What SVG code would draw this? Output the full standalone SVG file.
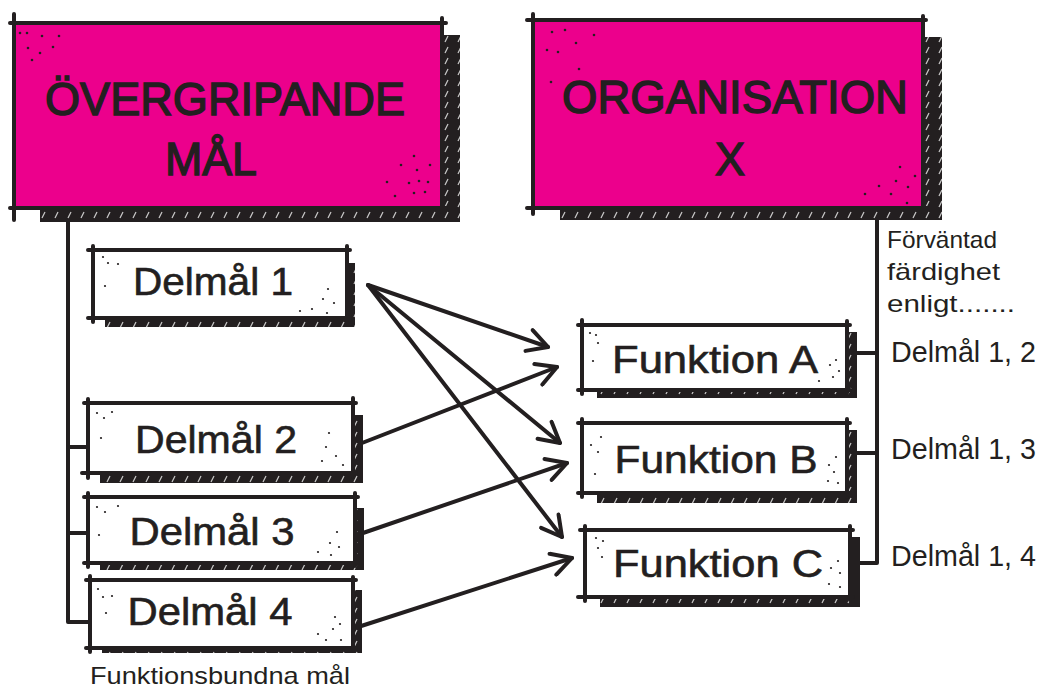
<svg xmlns="http://www.w3.org/2000/svg" width="1044" height="690" viewBox="0 0 1044 690">
<style>
.shadow{fill:#231f20}
.hatch{fill:url(#hatch)}
.pink{fill:#ec008c}
.white{fill:#ffffff}
.edge{stroke:#231f20;stroke-width:4;stroke-linecap:round;fill:none}
.title{font-family:"Liberation Sans",Arial,sans-serif;font-size:46px;fill:#231f20;stroke:#231f20;stroke-width:1.4}
.lbl{font-family:"Liberation Sans",Arial,sans-serif;font-size:38px;fill:#231f20;stroke:#231f20;stroke-width:0.6}
.note{font-family:"Liberation Sans",Arial,sans-serif;font-size:24px;fill:#231f20}
.side{font-family:"Liberation Sans",Arial,sans-serif;font-size:29px;fill:#231f20}
.conn{stroke:#231f20;stroke-width:4;fill:none;stroke-linecap:round;stroke-linejoin:round}
.dot{fill:#231f20}
</style>
<defs>
<pattern id="hatch" patternUnits="userSpaceOnUse" width="13" height="11">
<line x1="3" y1="9" x2="6" y2="3" stroke="#ffffff" stroke-width="1.2" stroke-opacity="0.75"/>
</pattern>
<marker id="arr" viewBox="0 0 26 26" refX="23" refY="13" markerWidth="26" markerHeight="26" markerUnits="userSpaceOnUse" orient="auto">
<path d="M3,2 L23,13 L3,24" fill="none" stroke="#231f20" stroke-width="4" stroke-linecap="round" stroke-linejoin="round"/>
</marker>
</defs>
<rect width="1044" height="690" fill="#ffffff"/>

<g id="connectors">
<path class="conn" d="M68,208 V622 H90"/>
<path class="conn" d="M68,447 H88"/>
<path class="conn" d="M68,533 H88"/>
<path class="conn" d="M877,208 V563 H850"/>
<path class="conn" d="M847,353 H877"/>
<path class="conn" d="M847,453 H877"/>
<line class="conn" x1="368" y1="285" x2="548" y2="347" marker-end="url(#arr)"/>
<line class="conn" x1="368" y1="285" x2="560" y2="443" marker-end="url(#arr)"/>
<line class="conn" x1="368" y1="285" x2="562" y2="537" marker-end="url(#arr)"/>
<line class="conn" x1="362" y1="443" x2="557" y2="367" marker-end="url(#arr)"/>
<line class="conn" x1="363" y1="533" x2="567" y2="463" marker-end="url(#arr)"/>
<line class="conn" x1="355" y1="628" x2="572" y2="558" marker-end="url(#arr)"/>
</g>

<g id="node-overgripande">
<rect class="shadow" x="40" y="35" width="420" height="187"/>
<rect class="hatch" x="40" y="35" width="420" height="187"/>
<rect class="pink" x="14" y="23" width="428" height="185"/>
<path class="edge" d="M10,23 H446 M14,14 V220 M10,208 H446 M442,18 V212"/>
<g class="dot"><circle cx="20" cy="33" r="1.3"/><circle cx="27" cy="33" r="1.3"/><circle cx="42" cy="36" r="1.3"/><circle cx="59" cy="36" r="1.3"/><circle cx="28" cy="48" r="1.3"/><circle cx="40" cy="53" r="1.3"/><circle cx="53" cy="47" r="1.3"/><circle cx="32" cy="60" r="1.3"/>
<circle cx="414" cy="156" r="1.3"/><circle cx="401" cy="165" r="1.3"/><circle cx="430" cy="165" r="1.3"/><circle cx="417" cy="170" r="1.3"/><circle cx="387" cy="182" r="1.3"/><circle cx="409" cy="183" r="1.3"/><circle cx="419" cy="181" r="1.3"/><circle cx="428" cy="182" r="1.3"/><circle cx="414" cy="193" r="1.3"/><circle cx="425" cy="192" r="1.3"/><circle cx="395" cy="196" r="1.3"/></g>
<text class="title" x="225" y="115" text-anchor="middle" textLength="360" lengthAdjust="spacingAndGlyphs">ÖVERGRIPANDE</text>
<text class="title" x="211" y="175" text-anchor="middle" textLength="92" lengthAdjust="spacingAndGlyphs">MÅL</text>
</g>

<g id="node-organisation">
<rect class="shadow" x="560" y="37" width="382" height="183"/>
<rect class="hatch" x="560" y="37" width="382" height="183"/>
<rect class="pink" x="533" y="21" width="390" height="187"/>
<path class="edge" d="M527,20 H926 M533,14 V214 M527,208 H927 M923,16 V212"/>
<g class="dot"><circle cx="552" cy="32" r="1.3"/><circle cx="565" cy="30" r="1.3"/><circle cx="594" cy="35" r="1.3"/><circle cx="547" cy="50" r="1.3"/><circle cx="558" cy="52" r="1.3"/><circle cx="576" cy="43" r="1.3"/><circle cx="579" cy="69" r="1.3"/><circle cx="551" cy="82" r="1.3"/>
<circle cx="900" cy="167" r="1.3"/><circle cx="915" cy="176" r="1.3"/><circle cx="896" cy="181" r="1.3"/><circle cx="879" cy="186" r="1.3"/><circle cx="908" cy="187" r="1.3"/><circle cx="865" cy="194" r="1.3"/><circle cx="891" cy="194" r="1.3"/><circle cx="907" cy="203" r="1.3"/></g>
<text class="title" x="735" y="113" text-anchor="middle" textLength="346" lengthAdjust="spacingAndGlyphs">ORGANISATION</text>
<text class="title" x="730" y="175" text-anchor="middle" textLength="30" lengthAdjust="spacingAndGlyphs">X</text>
</g>

<g id="node-delmal1">
<rect class="shadow" x="105" y="263" width="250" height="64"/>
<rect class="hatch" x="105" y="263" width="250" height="64"/>
<rect class="white" x="93" y="250" width="254" height="68"/>
<path class="edge" d="M88,250 H350 M93,246 V322 M88,318 H350 M347,246 V320"/>
<g class="dot"><circle cx="103" cy="257" r="1.1"/><circle cx="108" cy="263" r="1.1"/><circle cx="118" cy="264" r="1.1"/><circle cx="105" cy="286" r="1.1"/><circle cx="328" cy="289" r="1.1"/><circle cx="323" cy="299" r="1.1"/><circle cx="334" cy="303" r="1.1"/><circle cx="300" cy="311" r="1.1"/><circle cx="312" cy="309" r="1.1"/><circle cx="327" cy="313" r="1.1"/></g>
<text class="lbl" x="213" y="295" text-anchor="middle" textLength="160" lengthAdjust="spacingAndGlyphs">Delmål 1</text>
</g>

<g id="node-delmal2">
<rect class="shadow" x="100" y="415" width="263" height="68"/>
<rect class="hatch" x="100" y="415" width="263" height="68"/>
<rect class="white" x="88" y="403" width="265" height="70"/>
<path class="edge" d="M84,403 H356 M88,399 V478 M82,473 H356 M353,398 V477"/>
<g class="dot"><circle cx="97" cy="413" r="1.1"/><circle cx="104" cy="418" r="1.1"/><circle cx="112" cy="412" r="1.1"/><circle cx="101" cy="438" r="1.1"/><circle cx="329" cy="433" r="1.1"/><circle cx="326" cy="447" r="1.1"/><circle cx="336" cy="456" r="1.1"/><circle cx="322" cy="461" r="1.1"/><circle cx="343" cy="465" r="1.1"/></g>
<text class="lbl" x="216" y="453" text-anchor="middle" textLength="162" lengthAdjust="spacingAndGlyphs">Delmål 2</text>
</g>

<g id="node-delmal3">
<rect class="shadow" x="100" y="508" width="264" height="62"/>
<rect class="hatch" x="100" y="508" width="264" height="62"/>
<rect class="white" x="88" y="497" width="267" height="66"/>
<path class="edge" d="M84,497 H358 M88,493 V567 M84,563 H358 M355,493 V566"/>
<g class="dot"><circle cx="97" cy="507" r="1.1"/><circle cx="105" cy="512" r="1.1"/><circle cx="118" cy="506" r="1.1"/><circle cx="99" cy="535" r="1.1"/><circle cx="337" cy="532" r="1.1"/><circle cx="330" cy="543" r="1.1"/><circle cx="339" cy="547" r="1.1"/><circle cx="318" cy="552" r="1.1"/><circle cx="331" cy="555" r="1.1"/></g>
<text class="lbl" x="212" y="545" text-anchor="middle" textLength="165" lengthAdjust="spacingAndGlyphs">Delmål 3</text>
</g>

<g id="node-delmal4">
<rect class="shadow" x="102" y="590" width="260" height="63"/>
<rect class="hatch" x="102" y="590" width="260" height="63"/>
<rect class="white" x="90" y="580" width="263" height="68"/>
<path class="edge" d="M86,580 H356 M90,576 V652 M86,648 H356 M353,577 V650"/>
<g class="dot"><circle cx="98" cy="589" r="1.1"/><circle cx="103" cy="597" r="1.1"/><circle cx="112" cy="596" r="1.1"/><circle cx="106" cy="613" r="1.1"/><circle cx="335" cy="617" r="1.1"/><circle cx="340" cy="624" r="1.1"/><circle cx="333" cy="629" r="1.1"/><circle cx="318" cy="634" r="1.1"/><circle cx="326" cy="640" r="1.1"/><circle cx="341" cy="640" r="1.1"/></g>
<text class="lbl" x="210" y="625" text-anchor="middle" textLength="165" lengthAdjust="spacingAndGlyphs">Delmål 4</text>
</g>

<g id="node-funktionA">
<rect class="shadow" x="597" y="332" width="260" height="66"/>
<rect class="hatch" x="597" y="332" width="260" height="66"/>
<rect class="white" x="582" y="325" width="265" height="65"/>
<path class="edge" d="M578,325 H850 M582,320 V394 M578,390 H850 M847,321 V393"/>
<g class="dot"><circle cx="590" cy="333" r="1.1"/><circle cx="596" cy="335" r="1.1"/><circle cx="598" cy="343" r="1.1"/><circle cx="593" cy="361" r="1.1"/><circle cx="836" cy="360" r="1.1"/><circle cx="830" cy="365" r="1.1"/><circle cx="839" cy="371" r="1.1"/><circle cx="833" cy="377" r="1.1"/><circle cx="819" cy="381" r="1.1"/></g>
<text class="lbl" x="715" y="373" text-anchor="middle" textLength="206" lengthAdjust="spacingAndGlyphs">Funktion A</text>
</g>

<g id="node-funktionB">
<rect class="shadow" x="597" y="430" width="260" height="73"/>
<rect class="hatch" x="597" y="430" width="260" height="73"/>
<rect class="white" x="582" y="423" width="265" height="70"/>
<path class="edge" d="M578,423 H850 M582,419 V497 M578,493 H850 M847,419 V497"/>
<g class="dot"><circle cx="591" cy="445" r="1.1"/><circle cx="601" cy="437" r="1.1"/><circle cx="598" cy="452" r="1.1"/><circle cx="595" cy="474" r="1.1"/><circle cx="836" cy="457" r="1.1"/><circle cx="829" cy="465" r="1.1"/><circle cx="834" cy="472" r="1.1"/><circle cx="828" cy="481" r="1.1"/><circle cx="838" cy="483" r="1.1"/></g>
<text class="lbl" x="716" y="473" text-anchor="middle" textLength="203" lengthAdjust="spacingAndGlyphs">Funktion B</text>
</g>

<g id="node-funktionC">
<rect class="shadow" x="600" y="537" width="260" height="70"/>
<rect class="hatch" x="600" y="537" width="260" height="70"/>
<rect class="white" x="585" y="530" width="265" height="67"/>
<path class="edge" d="M580,530 H853 M585,526 V601 M578,597 H853 M850,526 V600"/>
<g class="dot"><circle cx="596" cy="538" r="1.1"/><circle cx="603" cy="541" r="1.1"/><circle cx="598" cy="548" r="1.1"/><circle cx="602" cy="557" r="1.1"/><circle cx="838" cy="561" r="1.1"/><circle cx="831" cy="568" r="1.1"/><circle cx="840" cy="573" r="1.1"/><circle cx="829" cy="584" r="1.1"/><circle cx="840" cy="587" r="1.1"/></g>
<text class="lbl" x="718" y="577" text-anchor="middle" textLength="210" lengthAdjust="spacingAndGlyphs">Funktion C</text>
</g>

<g id="labels">
<text class="note" x="90" y="684" textLength="260" lengthAdjust="spacingAndGlyphs">Funktionsbundna mål</text>
<text class="note" x="887" y="248" textLength="110" lengthAdjust="spacingAndGlyphs">Förväntad</text>
<text class="note" x="887" y="280" textLength="113" lengthAdjust="spacingAndGlyphs">färdighet</text>
<text class="note" x="887" y="312" textLength="128" lengthAdjust="spacingAndGlyphs">enligt.......</text>
<text class="side" x="891" y="362" textLength="145" lengthAdjust="spacingAndGlyphs">Delmål 1, 2</text>
<text class="side" x="891" y="459" textLength="145" lengthAdjust="spacingAndGlyphs">Delmål 1, 3</text>
<text class="side" x="891" y="566" textLength="145" lengthAdjust="spacingAndGlyphs">Delmål 1, 4</text>
</g>
</svg>
